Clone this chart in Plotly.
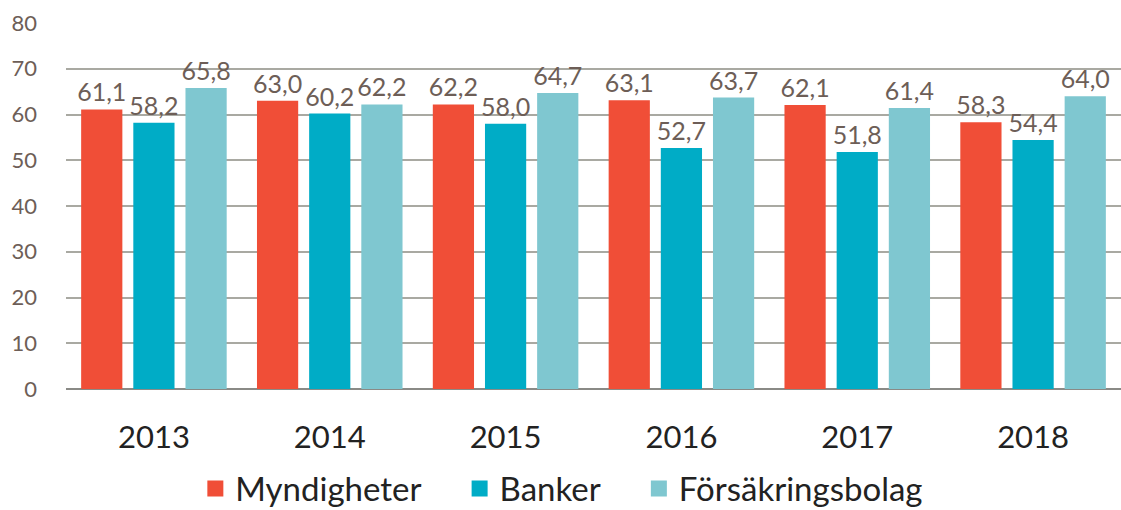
import plotly.graph_objects as go

years = ["2013", "2014", "2015", "2016", "2017", "2018"]
myndigheter = [61.1, 63.0, 62.2, 63.1, 62.1, 58.3]
banker = [58.2, 60.2, 58.0, 52.7, 51.8, 54.4]
forsakring = [65.8, 62.2, 64.7, 63.7, 61.4, 64.0]
y_ticks = [0, 10, 20, 30, 40, 50, 60, 70, 80]

series = [
    ("Myndigheter", myndigheter, "#F04E37"),
    ("Banker", banker, "#00ACC6"),
    ("Försäkringsbolag", forsakring, "#7FC7D0"),
]

FONT = "Lato"
fig = go.Figure()
for name, vals, col in series:
    fig.add_trace(go.Bar(
        x=years, y=vals, name=name, marker_color=col, marker_line_width=0,
        text=[f"{v:.1f}".replace(".", ",") for v in vals],
        textposition="outside", constraintext="none", cliponaxis=False,
        textfont=dict(family=FONT, size=25, color="#6D5E57"),
        showlegend=False,
    ))
# legend entries with larger square swatches (extra no-break spaces widen the gaps)
pads = ["\u00a0\u00a0\u00a0\u00a0", "\u00a0\u00a0\u00a0\u00a0", ""]
for (name, vals, col), pad in zip(series, pads):
    fig.add_trace(go.Scatter(
        x=[None], y=[None], mode="markers", name=name + pad,
        marker=dict(symbol="square", size=22, color=col),
        showlegend=True,
    ))

fig.update_layout(
    width=1121, height=510,
    margin=dict(l=66, r=0, t=23, b=121, autoexpand=False),
    paper_bgcolor="white", plot_bgcolor="white",
    barmode="group", bargap=0.11, bargroupgap=0.21,
    legend=dict(orientation="h", x=0.47, xanchor="center", y=-0.272, yanchor="middle",
                font=dict(family=FONT, size=33, color="#222222"),
                itemwidth=30, traceorder="normal", itemsizing="trace"),
    xaxis=dict(tickfont=dict(family=FONT, size=31, color="#222222"),
               ticklabelstandoff=27, showline=False, showgrid=False, automargin=False),
    yaxis=dict(range=[0, 80], tickvals=y_ticks, showgrid=True, gridcolor="#A9A9A2",
               gridwidth=1.5, zeroline=True, zerolinecolor="#8A8A86", zerolinewidth=2,
               tickfont=dict(family=FONT, size=22, color="#6D5E57"),
               ticklabelstandoff=28, automargin=False),
)

fig.write_html(
    "out.html",
    config={"displayModeBar": False},
    post_script=(
        "var b=document.body.style;b.margin='0';b.padding='0';b.overflow='hidden';"
        "b.height='510px';b.fontSize='0';b.lineHeight='0';"
        "var h=document.documentElement.style;h.overflow='hidden';h.height='510px';"
    ),
)
